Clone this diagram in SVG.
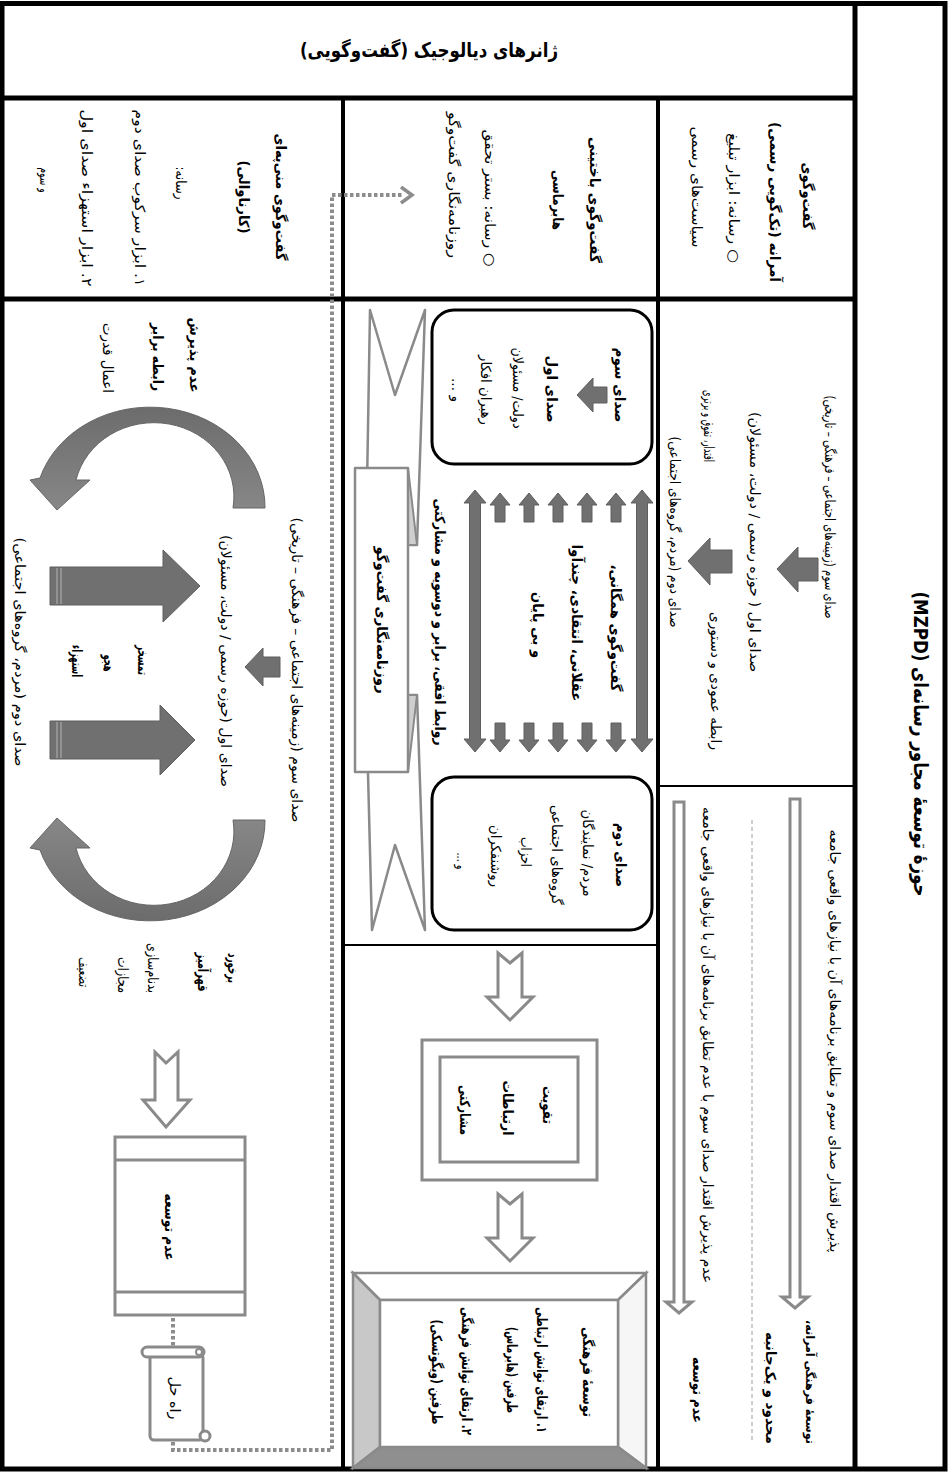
<svg xmlns="http://www.w3.org/2000/svg" width="951" height="1473" viewBox="0 0 951 1473">
<style>
.t{font-family:"DejaVu Sans",sans-serif;font-size:14px;text-anchor:middle;dominant-baseline:central;direction:rtl;fill:#000}
.b{font-weight:bold}
.ttl{font-size:20px;font-weight:bold}
.ln{stroke:#000;fill:none}
.w5{stroke-width:5}.w4{stroke-width:4}.w2{stroke-width:2}
.ga{fill:#707070;stroke:#5e5e5e;stroke-width:1}
.hol{fill:#fff;stroke:#8a8a8a;stroke-width:3}
.rib{fill:#fff;stroke:#8a8a8a;stroke-width:2.5;stroke-linejoin:round}
.fold{fill:#cfcfcf;stroke:#8a8a8a;stroke-width:2}
.rbox{fill:#fff;stroke:#000;stroke-width:3}
.dot{fill:none;stroke:#8c8c8c;stroke-width:4;stroke-dasharray:3.5 2.5}
.dash{fill:none;stroke:#9a9a9a;stroke-width:1;stroke-dasharray:4 3}
.curv{fill:url(#gC);stroke:#666;stroke-width:1}
</style>
<defs>
<linearGradient id="gC" x1="0" y1="0" x2="0" y2="1"><stop offset="0" stop-color="#6c6c6c"/><stop offset="1" stop-color="#878787"/></linearGradient>
<path id="sUp" class="ga" d="M0,0 L10,12 L5,12 L5,29 L-5,29 L-5,12 L-10,12 Z"/>
<path id="sDn" class="ga" d="M0,29 L10,17 L5,17 L5,0 L-5,0 L-5,17 L-10,17 Z"/>
<path id="lDbl" class="ga" d="M0,0 L11,13 L5.5,13 L5.5,249 L11,249 L0,262 L-11,249 L-5.5,249 L-5.5,13 L-11,13 Z"/>
<path id="hDn" class="hol" d="M-12,0 L0,10 L12,0 L12,44 L23,44 L0,67 L-23,44 L-12,44 Z"/>
<marker id="chev" markerUnits="userSpaceOnUse" markerWidth="20" markerHeight="20" refX="4" refY="9" orient="auto" viewBox="0 0 20 20"><path d="M1,1 L12,9 L1,17" fill="none" stroke="#8c8c8c" stroke-width="3.5" stroke-dasharray="none"/></marker>
</defs>

<g id="table">
<rect x="2" y="3.5" width="943" height="1465.5" class="ln w5"/>
<line x1="2" y1="98" x2="855" y2="98" class="ln w5"/>
<line x1="855" y1="3" x2="855" y2="1469" class="ln w5"/>
<line x1="2" y1="299" x2="855" y2="299" class="ln w5"/>
<line x1="343" y1="98" x2="343" y2="1469" class="ln w4"/>
<line x1="658" y1="98" x2="658" y2="1469" class="ln w4"/>
<line x1="658" y1="786" x2="855" y2="786" class="ln w2"/>
<line x1="343" y1="945" x2="658" y2="945" class="ln w2"/>
</g>

<g id="title"><text class="t ttl" x="429" y="50" textLength="258" lengthAdjust="spacingAndGlyphs">ژانرهای دیالوجیک (گفت‌وگویی)</text></g>
<g id="mzpd"><text class="t ttl" transform="translate(921,744) rotate(90)" textLength="305" lengthAdjust="spacingAndGlyphs">حوزهٔ توسعهٔ مجاور رسانه‌ای (MZPD)</text></g>

<g id="genre-monologic">
<text class="t b" transform="translate(808,196) rotate(90)" textLength="67" lengthAdjust="spacingAndGlyphs">گفت‌وگوی</text>
<text class="t b" transform="translate(775,202) rotate(90)" textLength="160" lengthAdjust="spacingAndGlyphs">آمرانه (تک‌گویی رسمی)</text>
<text class="t" transform="translate(734,198) rotate(90)" textLength="130" lengthAdjust="spacingAndGlyphs">○ رسانه: ابزار تبلیغ</text>
<text class="t" transform="translate(697,187) rotate(90)" textLength="121" lengthAdjust="spacingAndGlyphs">سیاست‌های رسمی</text>
</g>
<g id="genre-bakhtin">
<text class="t b" transform="translate(595,200) rotate(90)" textLength="126" lengthAdjust="spacingAndGlyphs">گفت‌وگوی باختینی</text>
<text class="t b" transform="translate(558,200) rotate(90)" textLength="60" lengthAdjust="spacingAndGlyphs">هابرماسی</text>
<text class="t" transform="translate(490,198) rotate(90)" textLength="137" lengthAdjust="spacingAndGlyphs">○ رسانه: بستر تحقق</text>
<text class="t" transform="translate(454,185) rotate(90)" textLength="146" lengthAdjust="spacingAndGlyphs">روزنامه‌نگاری گفت‌وگو</text>
</g>
<g id="genre-menippean">
<text class="t b" transform="translate(281,197) rotate(90)" textLength="127" lengthAdjust="spacingAndGlyphs">گفت‌وگوی منی‌په‌ای</text>
<text class="t b" transform="translate(244,197) rotate(90)" textLength="73" lengthAdjust="spacingAndGlyphs">(کارناوالی)</text>
<text class="t" transform="translate(181,183) rotate(90)" textLength="33" lengthAdjust="spacingAndGlyphs">رسانه:</text>
<text class="t" transform="translate(140,198) rotate(90)" textLength="177" lengthAdjust="spacingAndGlyphs">۱.  ابزار سرکوب صدای دوم</text>
<text class="t" transform="translate(87,198) rotate(90)" textLength="177" lengthAdjust="spacingAndGlyphs">۲.  ابزار استهزاء صدای اول</text>
<text class="t" transform="translate(45,180) rotate(90)" textLength="25" lengthAdjust="spacingAndGlyphs">و سوم</text>
</g>

<g id="monologic-voices">
<text class="t" transform="translate(830,507) rotate(90)" textLength="223" lengthAdjust="spacingAndGlyphs">صدای سوم (زمینه‌های اجتماعی – فرهنگی – تاریخی)</text>
<path class="ga" d="M777,569 L798,547 L798,558 L818,558 L818,581 L798,581 L798,592 Z"/>
<text class="t" transform="translate(755,542) rotate(90)" textLength="260" lengthAdjust="spacingAndGlyphs">صدای اول ( حوزه رسمی / دولت، مسئولان)</text>
<text class="t" transform="translate(709,426) rotate(90)" textLength="72" lengthAdjust="spacingAndGlyphs">اقتدار، تفوق و برتری</text>
<text class="t" transform="translate(716,681) rotate(90)" textLength="138" lengthAdjust="spacingAndGlyphs">رابطه عمودی و دستوری</text>
<path class="ga" d="M688,561 L710,538 L710,550 L732,550 L732,573 L710,573 L710,585 Z"/>
<text class="t" transform="translate(675,532) rotate(90)" textLength="191" lengthAdjust="spacingAndGlyphs">صدای دوم (مردم، گروه‌های اجتماعی)</text>
</g>

<g id="monologic-outcome">
<text class="t" transform="translate(835,1041) rotate(90)" textLength="423" lengthAdjust="spacingAndGlyphs">پذیرش اقتدار صدای سوم و تطابق برنامه‌های آن با نیازهای واقعی جامعه</text>
<path class="hol" d="M790,799 L800,799 L800,1297 L808,1297 L795,1308 L782,1297 L790,1297 Z"/>
<text class="t b" style="font-size:12px" transform="translate(810,1382) rotate(90)" textLength="124" lengthAdjust="spacingAndGlyphs">توسعهٔ فرهنگی آمرانه،</text>
<text class="t b" transform="translate(771,1388) rotate(90)" textLength="112" lengthAdjust="spacingAndGlyphs">محدود و یک‌جانبه</text>
<line class="dash" x1="752" y1="820" x2="752" y2="1440"/>
<text class="t" transform="translate(708,1045) rotate(90)" textLength="476" lengthAdjust="spacingAndGlyphs">عدم پذیرش اقتدار صدای سوم با عدم تطابق برنامه‌های آن با نیازهای واقعی جامعه</text>
<path class="hol" d="M674,802 L684,802 L684,1302 L692,1302 L679,1313 L666,1302 L674,1302 Z"/>
<text class="t b" transform="translate(698,1390) rotate(90)" textLength="66" lengthAdjust="spacingAndGlyphs">عدم توسعه</text>
</g>

<g id="box-first-voice">
<rect class="rbox" x="432" y="310" width="220" height="154" rx="22"/>
<text class="t b" transform="translate(620,385) rotate(90)" textLength="75" lengthAdjust="spacingAndGlyphs">صدای سوم</text>
<path class="ga" d="M577,395 L593,378 L593,387 L607,387 L607,403 L593,403 L593,412 Z"/>
<text class="t b" transform="translate(552,389) rotate(90)" textLength="67" lengthAdjust="spacingAndGlyphs">صدای اول</text>
<text class="t" transform="translate(518,388) rotate(90)" textLength="81" lengthAdjust="spacingAndGlyphs">دولت/ مسئولان</text>
<text class="t" transform="translate(486,390) rotate(90)" textLength="70" lengthAdjust="spacingAndGlyphs">رهبران افکار</text>
<text class="t" transform="translate(457,390) rotate(90)" textLength="24" lengthAdjust="spacingAndGlyphs">و ...</text>
</g>

<g id="box-second-voice">
<rect class="rbox" x="432" y="777" width="220" height="153" rx="22"/>
<text class="t b" transform="translate(621,855) rotate(90)" textLength="64" lengthAdjust="spacingAndGlyphs">صدای دوم</text>
<text class="t" transform="translate(588,853) rotate(90)" textLength="87" lengthAdjust="spacingAndGlyphs">مردم/ نمایندگان</text>
<text class="t" transform="translate(557,855) rotate(90)" textLength="100" lengthAdjust="spacingAndGlyphs">گروه‌های اجتماعی</text>
<text class="t" transform="translate(526,852) rotate(90)" textLength="30" lengthAdjust="spacingAndGlyphs">احزاب</text>
<text class="t" transform="translate(496,856) rotate(90)" textLength="62" lengthAdjust="spacingAndGlyphs">روشنفکران</text>
<text class="t" transform="translate(462,861) rotate(90)" textLength="17" lengthAdjust="spacingAndGlyphs">و ...</text>
</g>

<g id="public-dialogue">
<use href="#lDbl" x="475" y="490"/>
<use href="#lDbl" x="642" y="490"/>
<use href="#sUp" x="500" y="493"/><use href="#sUp" x="529" y="493"/><use href="#sUp" x="558" y="493"/><use href="#sUp" x="587" y="493"/><use href="#sUp" x="616" y="493"/>
<use href="#sDn" x="500" y="723"/><use href="#sDn" x="529" y="723"/><use href="#sDn" x="558" y="723"/><use href="#sDn" x="587" y="723"/><use href="#sDn" x="616" y="723"/>
<text class="t b" transform="translate(616,628) rotate(90)" textLength="127" lengthAdjust="spacingAndGlyphs">گفت‌وگوی همگانی،</text>
<text class="t b" transform="translate(577,623) rotate(90)" textLength="157" lengthAdjust="spacingAndGlyphs">عقلانی، انتقادی، چندآوا</text>
<text class="t b" transform="translate(538,625) rotate(90)" textLength="66" lengthAdjust="spacingAndGlyphs">و بی پایان</text>
<text class="t b" transform="translate(440,622) rotate(90)" textLength="247" lengthAdjust="spacingAndGlyphs">روابط افقی، برابر و دوسویه و مشارکتی</text>
</g>

<g id="ribbon">
<path class="rib" d="M370,310 L395,395 L425,310 L417,545 L366,545 Z"/>
<path class="rib" d="M366,695 L417,695 L425,930 L395,845 L372,930 Z"/>
<path class="fold" d="M408,468 L417,545 L408,545 Z"/>
<path class="fold" d="M408,695 L417,695 L408,772 Z"/>
<rect class="rib" x="355" y="468" width="53" height="304"/>
<text class="t b" transform="translate(382,620) rotate(90)" textLength="147" lengthAdjust="spacingAndGlyphs">روزنامه‌نگاری گفت‌وگو</text>
</g>

<g id="strengthen">
<use href="#hDn" x="510" y="953"/>
<rect class="hol" x="422" y="1040" width="175" height="140"/>
<rect class="hol" x="440" y="1057" width="138" height="105"/>
<text class="t b" transform="translate(548,1105) rotate(90)" textLength="38" lengthAdjust="spacingAndGlyphs">تقویت</text>
<text class="t b" transform="translate(508,1108) rotate(90)" textLength="55" lengthAdjust="spacingAndGlyphs">ارتباطات</text>
<text class="t b" transform="translate(465,1110) rotate(90)" textLength="50" lengthAdjust="spacingAndGlyphs">مشارکتی</text>
<use href="#hDn" x="510" y="1194"/>
</g>

<g id="cultural-development">
<polygon points="353,1273 646,1273 618,1300 380,1300" fill="#fff" stroke="#8a8a8a" stroke-width="2.5"/>
<polygon points="646,1273 646,1468 618,1447 618,1300" fill="#f6f6f6" stroke="#8a8a8a" stroke-width="2.5"/>
<polygon points="353,1273 380,1300 380,1447 353,1468" fill="#c8c8c8" stroke="#8a8a8a" stroke-width="2.5"/>
<polygon points="353,1468 380,1447 618,1447 646,1468" fill="#8f8f8f" stroke="#8a8a8a" stroke-width="2.5"/>
<rect x="380" y="1300" width="238" height="147" fill="#fff" stroke="#8a8a8a" stroke-width="2.5"/>
<text class="t b" transform="translate(588,1372) rotate(90)" textLength="90" lengthAdjust="spacingAndGlyphs">توسعهٔ فرهنگی</text>
<text class="t b" transform="translate(542,1370) rotate(90)" textLength="126" lengthAdjust="spacingAndGlyphs">۱. ارتقای توانش ارتباطی</text>
<text class="t b" transform="translate(512,1370) rotate(90)" textLength="86" lengthAdjust="spacingAndGlyphs">طرفین (هابرماس)</text>
<text class="t b" transform="translate(467,1371) rotate(90)" textLength="128" lengthAdjust="spacingAndGlyphs">۲. ارتقای توانش فرهنگی</text>
<text class="t b" transform="translate(437,1372) rotate(90)" textLength="105" lengthAdjust="spacingAndGlyphs">طرفین (ویگوتسکی)</text>
</g>

<g id="carnival-cycle">
<text class="t b" transform="translate(195,355) rotate(90)" textLength="75" lengthAdjust="spacingAndGlyphs">عدم پذیرش</text>
<text class="t b" transform="translate(158,357) rotate(90)" textLength="68" lengthAdjust="spacingAndGlyphs">رابطه برابر</text>
<text class="t" transform="translate(108,358) rotate(90)" textLength="70" lengthAdjust="spacingAndGlyphs">اعمال قدرت</text>
<path class="curv" d="M265,508 A115,100 0 0 0 40,478 L30,480 L57,510 L90,480 L76,480 A80,74 0 0 1 233,508 Z"/>
<path class="curv" transform="translate(0,1328) scale(1,-1)" d="M265,508 A115,100 0 0 0 40,478 L30,480 L57,510 L90,480 L76,480 A80,74 0 0 1 233,508 Z"/>
<text class="t" transform="translate(297,670) rotate(90)" textLength="305" lengthAdjust="spacingAndGlyphs">صدای سوم (زمینه‌های اجتماعی – فرهنگی – تاریخی)</text>
<path class="ga" d="M245,667 L263,648 L263,657 L280,657 L280,677 L263,677 L263,686 Z"/>
<text class="t" transform="translate(226,661) rotate(90)" textLength="252" lengthAdjust="spacingAndGlyphs">صدای اول (حوزه رسمی / دولت، مسئولان)</text>
<path class="ga" d="M50,567 L163,567 L163,550 L200,586 L163,622 L163,605 L50,605 Z"/>
<path class="ga" d="M50,721 L160,721 L160,705 L195,740 L160,775 L160,759 L50,759 Z"/>
<g stroke="#a8a8a8" stroke-width="1.2"><line x1="57" y1="568" x2="57" y2="604"/><line x1="61" y1="568" x2="61" y2="604"/><line x1="57" y1="722" x2="57" y2="758"/><line x1="61" y1="722" x2="61" y2="758"/></g>
<text class="t b" transform="translate(143,660) rotate(90)" textLength="30" lengthAdjust="spacingAndGlyphs">تمسخر</text>
<text class="t b" transform="translate(109,663) rotate(90)" textLength="17" lengthAdjust="spacingAndGlyphs">هجو</text>
<text class="t b" transform="translate(77,661) rotate(90)" textLength="32" lengthAdjust="spacingAndGlyphs">استهزاء</text>
<text class="t" transform="translate(20,652) rotate(90)" textLength="229" lengthAdjust="spacingAndGlyphs">صدای دوم (مردم، گروه‌های اجتماعی)</text>
<text class="t b" transform="translate(233,968) rotate(90)" textLength="30" lengthAdjust="spacingAndGlyphs">برخورد</text>
<text class="t b" transform="translate(203,972) rotate(90)" textLength="39" lengthAdjust="spacingAndGlyphs">قهرآمیز</text>
<text class="t" transform="translate(153,968) rotate(90)" textLength="50" lengthAdjust="spacingAndGlyphs">بدنام‌سازی</text>
<text class="t" transform="translate(123,975) rotate(90)" textLength="36" lengthAdjust="spacingAndGlyphs">مجازات</text>
<text class="t" transform="translate(84,972) rotate(90)" textLength="30" lengthAdjust="spacingAndGlyphs">تضعیف</text>
</g>

<g id="no-development">
<path class="hol" d="M155,1052 L166,1063 L178,1052 L178,1100 L190,1100 L166,1127 L143,1100 L155,1100 Z"/>
<rect class="hol" x="115" y="1137" width="130" height="178"/>
<line x1="115" y1="1160" x2="245" y2="1160" stroke="#8a8a8a" stroke-width="3"/>
<line x1="115" y1="1292" x2="245" y2="1292" stroke="#8a8a8a" stroke-width="3"/>
<text class="t b" transform="translate(170,1227) rotate(90)" textLength="67" lengthAdjust="spacingAndGlyphs">عدم توسعه</text>
</g>

<g id="solution">
<rect class="hol" x="150" y="1354" width="53" height="86" rx="4"/>
<rect class="hol" x="142" y="1347" width="62" height="10" rx="5"/>
<circle cx="199" cy="1352" r="3" fill="none" stroke="#8a8a8a" stroke-width="2"/>
<circle cx="205" cy="1436" r="5" class="hol" stroke-width="2.5"/>
<text class="t" transform="translate(175,1398) rotate(90)" textLength="43" lengthAdjust="spacingAndGlyphs">راه حل</text>
</g>

<g id="connectors">
<path class="dot" d="M173,1318 V1346"/>
<path class="dot" d="M173,1442 V1450 H332 V195 H404" marker-end="url(#chev)"/>
</g>
</svg>
